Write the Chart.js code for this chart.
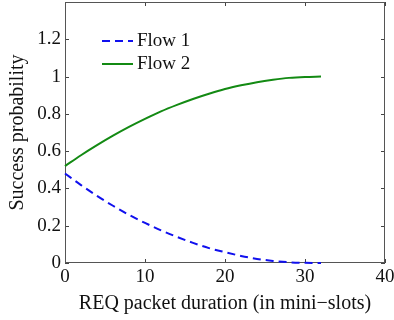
<!DOCTYPE html>
<html>
<head>
<meta charset="utf-8">
<script src="https://cdn.jsdelivr.net/npm/chart.js@4.4.0/dist/chart.umd.min.js"></script>
<style>
html, body { margin: 0; padding: 0; background: #fff; }
#wrap { width: 394px; height: 320px; }
</style>
</head>
<body>
<div id="wrap"><canvas id="lineChart"></canvas></div>
<script>
// data
var duration = [0, 2, 4, 6, 8, 10, 12, 14, 16, 18, 20, 22, 24, 26, 28, 30, 32];
var flow1 = [0.48, 0.418, 0.36, 0.307, 0.258, 0.215, 0.175, 0.14, 0.108, 0.08, 0.058, 0.038, 0.022, 0.011, 0.004, 0.001, 0];
var flow2 = [0.52, 0.578, 0.632, 0.683, 0.73, 0.773, 0.813, 0.848, 0.88, 0.908, 0.933, 0.953, 0.97, 0.983, 0.993, 0.998, 1.0];
var xTicks = [0, 10, 20, 30, 40];
var yTicks = [0, 0.2, 0.4, 0.6, 0.8, 1, 1.2];

var FONT = "'Liberation Serif', 'DejaVu Serif', serif";

function points(xs, ys) {
	return xs.map(function (x, i) { return { x: x, y: ys[i] }; });
}

// inward tick marks on all four sides + box + legend
var boxPlugin = {
	id: 'box',
	beforeDatasetsDraw: function (chart) {
		var ctx = chart.ctx;
		var a = chart.chartArea;
		var xs = chart.scales.x, ys = chart.scales.y;
		ctx.save();
		ctx.strokeStyle = '#444';
		ctx.lineWidth = 1;
		ctx.beginPath();
		xTicks.forEach(function (v) {
			var px = Math.round(xs.getPixelForValue(v)) + 0.5;
			ctx.moveTo(px, a.bottom); ctx.lineTo(px, a.bottom - 4);
			ctx.moveTo(px, a.top); ctx.lineTo(px, a.top + 4);
		});
		yTicks.forEach(function (v) {
			var py = Math.round(ys.getPixelForValue(v)) + 0.5;
			ctx.moveTo(a.left, py); ctx.lineTo(a.left + 4, py);
			ctx.moveTo(a.right, py); ctx.lineTo(a.right - 4, py);
		});
		ctx.stroke();
		ctx.strokeStyle = '#555';
		ctx.strokeRect(a.left + 0.5, a.top + 0.5, a.right - a.left - 1, a.bottom - a.top - 1);
		ctx.restore();
	},
	afterDraw: function (chart) {
		var ctx = chart.ctx;
		var a = chart.chartArea;
		// legend
		var items = chart.data.datasets;
		ctx.save();
		ctx.font = '19px ' + FONT;
		ctx.textBaseline = 'middle';
		items.forEach(function (ds, i) {
			var y = a.top + 39 + i * 23;
			ctx.beginPath();
			ctx.strokeStyle = ds.borderColor;
			ctx.lineWidth = 2;
			ctx.setLineDash(ds.borderDash || []);
			ctx.moveTo(a.left + 37, y);
			ctx.lineTo(a.left + 68, y);
			ctx.stroke();
			ctx.setLineDash([]);
			ctx.fillStyle = '#111';
			ctx.fillText(ds.label, a.left + 72, y);
		});
		ctx.restore();
	}
};

(function () {
	var ctx = document.getElementById('lineChart').getContext('2d');
	new Chart(ctx, {
		type: 'line',
		data: {
			datasets: [{
				label: 'Flow 1',
				data: points(duration, flow1),
				borderColor: '#1010ee',
				borderWidth: 2,
				borderDash: [8, 5],
				pointRadius: 0,
				cubicInterpolationMode: 'monotone',
				clip: 3,
				fill: false
			}, {
				label: 'Flow 2',
				data: points(duration, flow2),
				borderColor: '#138a13',
				borderWidth: 2,
				pointRadius: 0,
				cubicInterpolationMode: 'monotone',
				clip: 3,
				fill: false
			}]
		},
		options: {
			responsive: true,
			maintainAspectRatio: false,
			animation: false,
			layout: { padding: { top: 2, right: 9, left: 0, bottom: 0 } },
			plugins: {
				legend: { display: false },
				tooltip: { enabled: false }
			},
			scales: {
				x: {
					type: 'linear',
					min: 0,
					max: 40,
					afterFit: function (s) { s.height = 57; s.paddingLeft = 0; s.paddingRight = 0; },
					afterBuildTicks: function (s) { s.ticks = xTicks.map(function (v) { return { value: v }; }); },
					grid: { display: false, drawTicks: false },
					border: { display: false },
					ticks: { color: '#111', padding: 3, font: { family: FONT, size: 19 } },
					title: {
						display: true,
						text: 'REQ packet duration (in mini\u2212slots)',
						color: '#111',
						font: { family: FONT, size: 20 },
						padding: { top: 2, bottom: 4 }
					}
				},
				y: {
					min: 0,
					max: 1.4,
					afterFit: function (s) { s.width = 65; s.paddingTop = 0; s.paddingBottom = 0; },
					afterBuildTicks: function (s) { s.ticks = yTicks.map(function (v) { return { value: v }; }); },
					grid: { display: false, drawTicks: false },
					border: { display: false },
					ticks: {
						color: '#111',
						padding: 4,
						font: { family: FONT, size: 19 },
						callback: function (v) { return String(Math.round(v * 10) / 10); }
					},
					title: {
						display: true,
						text: 'Success probability',
						color: '#111',
						font: { family: FONT, size: 20 },
						padding: { top: 6, bottom: 2 }
					}
				}
			}
		},
		plugins: [boxPlugin]
	});
})();
</script>
</body>
</html>
